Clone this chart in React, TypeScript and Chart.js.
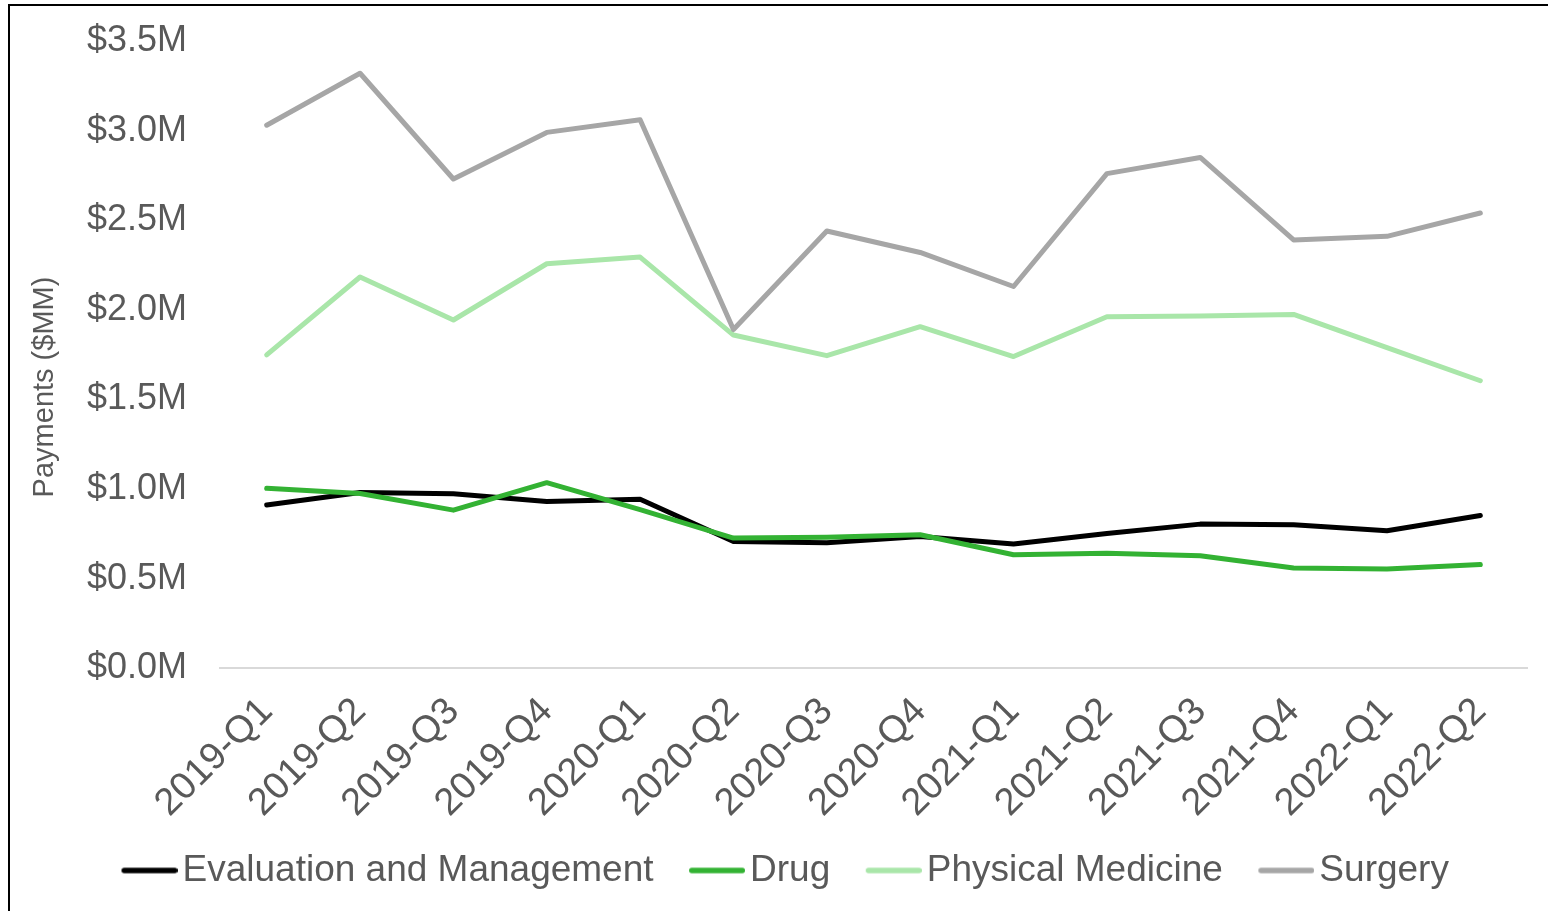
import React, { useEffect, useRef } from 'react';
import { Chart, registerables } from 'chart.js';

Chart.register(...registerables);

const categories = ['2019-Q1', '2019-Q2', '2019-Q3', '2019-Q4', '2020-Q1', '2020-Q2', '2020-Q3', '2020-Q4', '2021-Q1', '2021-Q2', '2021-Q3', '2021-Q4', '2022-Q1', '2022-Q2'];
const evalMgmt = [0.911, 0.98, 0.974, 0.93, 0.943, 0.707, 0.70, 0.735, 0.693, 0.752, 0.804, 0.80, 0.767, 0.852];
const drug = [1.004, 0.975, 0.882, 1.035, 0.885, 0.726, 0.73, 0.745, 0.633, 0.641, 0.628, 0.559, 0.554, 0.578];
const physicalMedicine = [1.748, 2.183, 1.943, 2.257, 2.294, 1.859, 1.744, 1.906, 1.739, 1.961, 1.965, 1.974, 1.789, 1.604];
const surgery = [3.03, 3.32, 2.73, 2.99, 3.06, 1.89, 2.44, 2.32, 2.13, 2.76, 2.85, 2.39, 2.41, 2.54];
const seriesNames = ['Evaluation and Management', 'Drug', 'Physical Medicine', 'Surgery'];
const seriesColors = ['#000000', '#33b233', '#a9e6a9', '#a6a6a6'];
const yMin = 0;
const yMax = 3.5;
const yStep = 0.5;
const yTitle = 'Payments ($MM)';

const FONT = '"Liberation Sans", Arial, sans-serif';
const TEXT = '#595959';
const LEGEND_BOX = 73;

export default function App() {
  const ref = useRef<HTMLCanvasElement | null>(null);

  useEffect(() => {
    if (!ref.current) return;
    const imgW = LEGEND_BOX + 27;
    const swatches = seriesColors.map((c) => {
      const cv = document.createElement('canvas');
      cv.width = imgW;
      cv.height = 8;
      const g = cv.getContext('2d')!;
      g.strokeStyle = c;
      g.lineWidth = 5.5;
      g.lineCap = 'round';
      g.beginPath();
      g.moveTo(imgW - 56 + 2.75, 4);
      g.lineTo(imgW - 2.75, 4);
      g.stroke();
      return cv;
    });

    const yTitlePlugin = {
      id: 'yTitleCustom',
      afterDraw(chart: any) {
        const ctx = chart.ctx;
        ctx.save();
        ctx.translate(35, 381);
        ctx.rotate(-Math.PI / 2);
        ctx.font = `29px ${FONT}`;
        ctx.fillStyle = TEXT;
        ctx.textAlign = 'center';
        ctx.textBaseline = 'middle';
        ctx.fillText(yTitle, 0, 0);
        ctx.restore();
      },
    };

    const values = [evalMgmt, drug, physicalMedicine, surgery];
    const chart = new Chart(ref.current, {
      type: 'line',
      data: {
        labels: categories,
        datasets: values.map((v, i) => ({
          label: seriesNames[i],
          data: v,
          borderColor: seriesColors[i],
          backgroundColor: seriesColors[i],
          borderWidth: 5,
          pointRadius: 0,
          pointHoverRadius: 0,
          tension: 0,
          borderCapStyle: 'round' as const,
          borderJoinStyle: 'round' as const,
          fill: false,
          order: 4 - i,
        })),
      },
      options: {
        responsive: false,
        animation: false,
        layout: { padding: { top: 35, right: 21, left: 76, bottom: 12 } },
        plugins: {
          legend: {
            position: 'bottom',
            align: 'start',
            labels: {
              usePointStyle: true,
              pointStyleWidth: LEGEND_BOX,
              padding: 5,
              color: TEXT,
              font: { family: FONT, size: 37 },
              sort: (a: any, b: any) => a.datasetIndex - b.datasetIndex,
              generateLabels: (ch: any) => {
                const items = (Chart.defaults.plugins.legend.labels as any).generateLabels(ch);
                return items.map((it: any) => ({ ...it, pointStyle: swatches[it.datasetIndex] }));
              },
            },
          },
          tooltip: { enabled: false },
        },
        scales: {
          x: {
            offset: true,
            grid: { display: false, drawTicks: false },
            border: { display: true, color: '#d9d9d9', width: 2 },
            ticks: {
              color: TEXT,
              font: { family: FONT, size: 38 },
              minRotation: 45,
              maxRotation: 45,
              padding: 21,
              autoSkip: false,
            },
          },
          y: {
            min: yMin,
            max: yMax,
            grid: { display: false, drawTicks: true, tickLength: 33 },
            border: { display: false },
            afterFit: (s: any) => {
              s.width = 134;
            },
            ticks: {
              stepSize: yStep,
              color: TEXT,
              padding: 0,
              font: { family: FONT, size: 36 },
              callback: (v: any) => '$' + Number(v).toFixed(1) + 'M',
            },
          },
        },
      },
      plugins: [yTitlePlugin],
    });
    return () => chart.destroy();
  }, []);

  return (
    <div
      style={{
        position: 'absolute',
        top: 4,
        left: 8,
        width: 1540,
        height: 907,
        boxSizing: 'border-box',
        borderLeft: '2px solid #000',
        borderTop: '2px solid #000',
        background: '#fff',
        overflow: 'hidden',
      }}
    >
      <canvas ref={ref} width={1538} height={905} style={{ display: 'block' }} />
    </div>
  );
}
